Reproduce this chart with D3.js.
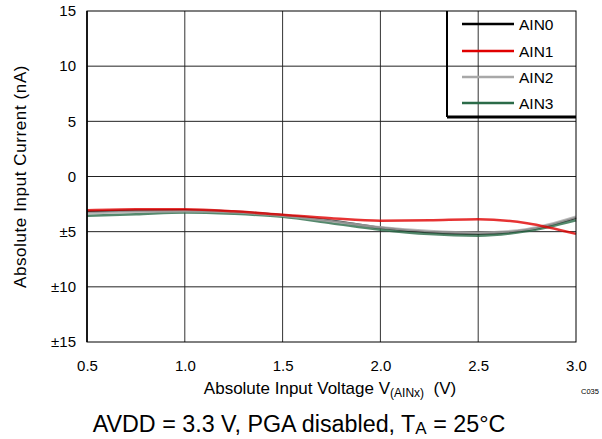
<!DOCTYPE html>
<html>
<head>
<meta charset="utf-8">
<script src="https://cdn.jsdelivr.net/npm/d3@7"></script>
<style>
  body { margin: 0; background: #fff; }
  svg { font-family: "Liberation Sans", Arial, sans-serif; }
</style>
</head>
<body>
<svg id="chart" width="602" height="439"></svg>
<script>
// values (nA)
var voltages = [0.5, 0.75, 1.0, 1.25, 1.5, 1.75, 2.0, 2.25, 2.5, 2.75, 3.0];
var ain0 = [-3.18, -3.08, -3.06, -3.2, -3.52, -4.0, -4.65, -5.05, -5.2, -4.85, -3.75];
var ain1 = [-3.06, -2.97, -2.97, -3.15, -3.47, -3.78, -4.0, -3.96, -3.87, -4.23, -5.2];
var ain2 = [-3.33, -3.2, -3.15, -3.25, -3.56, -4.05, -4.6, -4.95, -5.09, -4.77, -3.65];
var ain3 = [-3.56, -3.42, -3.26, -3.38, -3.65, -4.23, -4.82, -5.22, -5.36, -4.95, -3.96];

var seriesNames = ["AIN0", "AIN1", "AIN2", "AIN3"];
var seriesColors = ["#000000", "#e00000", "#a8a8a8", "#2b6b48"];
var seriesData = [ain0, ain1, ain2, ain3];

var xTicks = [0.5, 1.0, 1.5, 2.0, 2.5, 3.0];
var yTicks = [15, 10, 5, 0, -5, -10, -15];
var yTickLabels = ["15", "10", "5", "0", "\u00b15", "\u00b110", "\u00b115"];

var svg = d3.select("#chart");
var pLeft = 87, pRight = 576, pTop = 11, pBottom = 342;

var x = d3.scaleLinear().domain([0.5, 3.0]).range([pLeft, pRight]);
var y = d3.scaleLinear().domain([-15, 15]).range([pBottom, pTop]);

// grid
svg.append("g").selectAll("line")
  .data(xTicks.slice(1, -1))
  .enter().append("line")
  .attr("x1", function (d) { return x(d); }).attr("x2", function (d) { return x(d); })
  .attr("y1", pTop).attr("y2", pBottom)
  .style("stroke", "#333").style("stroke-width", 1);

svg.append("g").selectAll("line")
  .data(yTicks.slice(1, -1))
  .enter().append("line")
  .attr("y1", function (d) { return y(d); }).attr("y2", function (d) { return y(d); })
  .attr("x1", pLeft).attr("x2", pRight)
  .style("stroke", "#222").style("stroke-width", 1);

// curves
var line = d3.line()
  .x(function (d, i) { return x(voltages[i]); })
  .y(function (d) { return y(d); })
  .curve(d3.curveMonotoneX);

svg.append("g").selectAll("path")
  .data([0, 3, 2, 1])
  .enter().append("path")
  .attr("d", function (k) { return line(seriesData[k]); })
  .style("fill", "none")
  .style("stroke", function (k) { return seriesColors[k]; })
  .style("stroke-width", 2.5)
  .style("stroke-opacity", 0.8);

// frame
svg.append("rect")
  .attr("x", pLeft).attr("y", pTop)
  .attr("width", pRight - pLeft).attr("height", pBottom - pTop)
  .style("fill", "none").style("stroke", "#000").style("stroke-width", 1);
svg.append("line")
  .attr("x1", pLeft).attr("x2", pLeft).attr("y1", pTop).attr("y2", pBottom)
  .style("stroke", "#000").style("stroke-width", 1.6);

// axes via d3 axis, domain and ticks hidden
var xAxis = svg.append("g")
  .attr("transform", "translate(0," + pBottom + ")")
  .call(d3.axisBottom(x).tickValues(xTicks).tickFormat(d3.format(".1f")).tickSize(0).tickPadding(18));
var yAxis = svg.append("g")
  .attr("transform", "translate(" + pLeft + ",0)")
  .call(d3.axisLeft(y).tickValues(yTicks).tickFormat(function (d, i) { return yTickLabels[i]; }).tickSize(0).tickPadding(11));
[xAxis, yAxis].forEach(function (g) {
  g.select(".domain").remove();
  g.selectAll("text").style("font-size", "15px").style("fill", "#000")
    .style("font-family", "'Liberation Sans', Arial, sans-serif");
});

// legend
var lgLeft = 447, lgBottom = 117;
svg.append("line")
  .attr("x1", lgLeft).attr("x2", lgLeft).attr("y1", pTop).attr("y2", lgBottom)
  .style("stroke", "#000").style("stroke-width", 2);
svg.append("line")
  .attr("x1", lgLeft).attr("x2", pRight).attr("y1", lgBottom).attr("y2", lgBottom)
  .style("stroke", "#000").style("stroke-width", 3);

var lgY = [24, 51, 77, 103];
var lg = svg.append("g").selectAll("g")
  .data(seriesNames)
  .enter().append("g")
  .attr("transform", function (d, i) { return "translate(0," + lgY[i] + ")"; });
lg.append("line")
  .attr("x1", 462).attr("x2", 514).attr("y1", 0).attr("y2", 0)
  .style("stroke", function (d, i) { return seriesColors[i]; })
  .style("stroke-width", 2.6);
lg.append("text")
  .attr("x", 519).attr("y", 6)
  .style("font-size", "15.5px")
  .text(function (d) { return d; });

// axis titles
svg.append("text")
  .attr("transform", "translate(26," + ((pTop + pBottom) / 2) + ") rotate(-90)")
  .attr("text-anchor", "middle")
  .style("font-size", "17px")
  .style("letter-spacing", "0.6px")
  .text("Absolute Input Current (nA)");

var xt = svg.append("text")
  .attr("x", 330).attr("y", 394)
  .attr("text-anchor", "middle")
  .style("font-size", "17px");
xt.append("tspan").text("Absolute Input Voltage V");
xt.append("tspan").attr("dy", 3).style("font-size", "12px").text("(AINx)");
xt.append("tspan").attr("dy", -3).text("\u00a0 (V)");

svg.append("text")
  .attr("x", 581).attr("y", 394)
  .style("font-size", "7.5px")
  .text("C035");

var cap = svg.append("text")
  .attr("x", 299).attr("y", 432)
  .attr("text-anchor", "middle")
  .style("font-size", "23.3px");
cap.append("tspan").text("AVDD = 3.3 V, PGA disabled, T");
cap.append("tspan").attr("dy", 2).style("font-size", "17px").text("A");
cap.append("tspan").attr("dy", -2).text(" = 25\u00b0C");
</script>
</body>
</html>
